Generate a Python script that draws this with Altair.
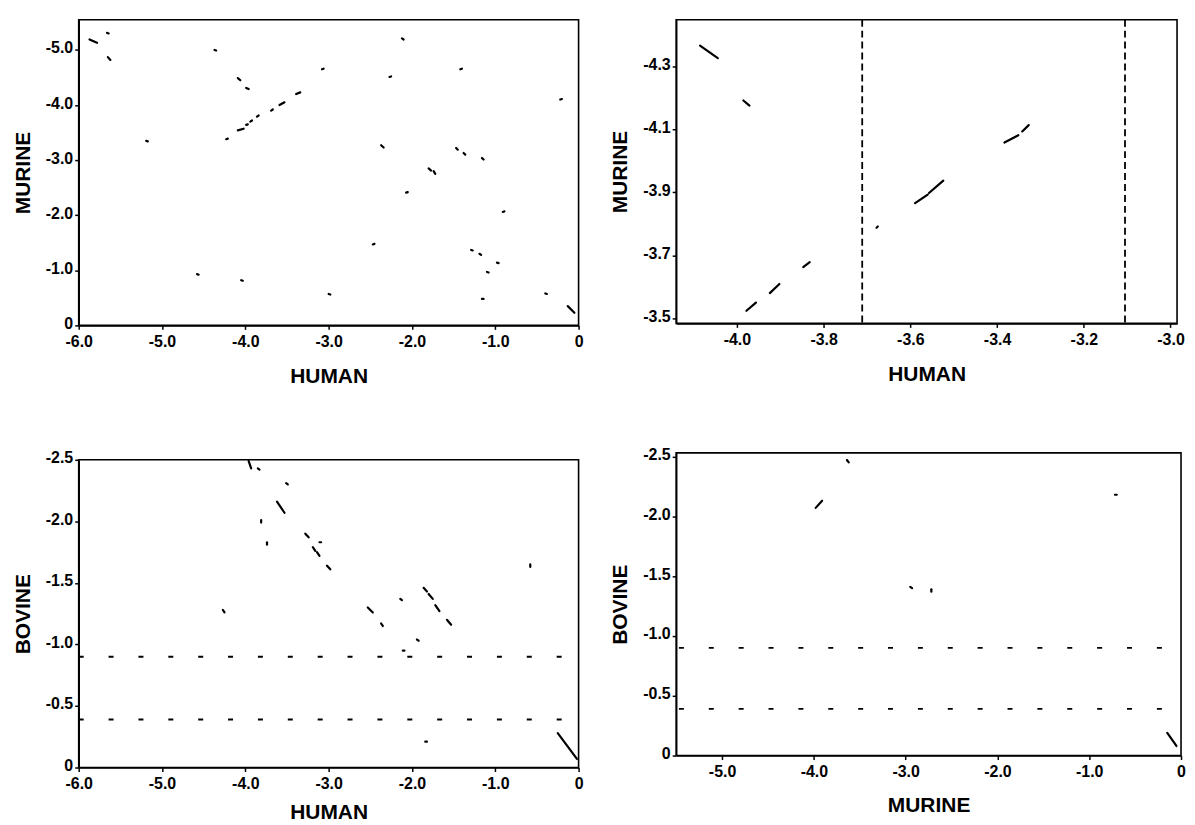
import altair as alt
import pandas as pd

# ---------------- data ----------------
# Panel 1: HUMAN (x) vs MURINE (y) -- short diagonal segments
p1_x1 = [-5.87, -5.66, -5.65, -4.37, -5.19, -4.09, -3.99, -4.09, -4.23, -3.99, -3.94, -3.86, -3.69, -3.59,
         -3.39, -3.08, -2.12, -2.27, -1.42, -0.22, -2.37, -1.47, -1.38, -1.16, -1.80, -1.74, -2.07, -0.91,
         -2.47, -1.29, -1.19, -0.98, -1.10, -4.58, -4.05, -3.00, -0.40, -1.16, -0.13]
p1_y1 = [-5.19, -5.31, -4.87, -5.00, -3.35, -4.49, -4.31, -3.54, -3.38, -3.64, -3.70, -3.79, -3.90, -4.00,
         -4.20, -4.65, -5.21, -4.51, -4.65, -4.10, -3.27, -3.22, -3.13, -3.04, -2.85, -2.80, -2.41, -2.06,
         -1.47, -1.37, -1.30, -1.14, -0.97, -0.93, -0.82, -0.57, -0.58, -0.48, -0.35]
p1_x2 = [-5.78, -5.64, -5.62, -4.35, -5.17, -4.06, -3.96, -4.02, -4.21, -3.97, -3.92, -3.84, -3.67, -3.53,
         -3.34, -3.06, -2.10, -2.25, -1.40, -0.20, -2.34, -1.45, -1.36, -1.14, -1.77, -1.72, -2.05, -0.89,
         -2.45, -1.27, -1.17, -0.96, -1.08, -4.56, -4.03, -2.98, -0.38, -1.14, -0.05]
p1_y2 = [-5.13, -5.30, -4.82, -4.99, -3.34, -4.45, -4.29, -3.57, -3.39, -3.65, -3.72, -3.81, -3.92, -4.05,
         -4.23, -4.66, -5.19, -4.52, -4.66, -4.11, -3.23, -3.19, -3.10, -3.01, -2.81, -2.75, -2.42, -2.07,
         -1.48, -1.36, -1.28, -1.13, -0.96, -0.92, -0.81, -0.56, -0.57, -0.48, -0.23]

# Panel 2: zoom of HUMAN -4.1..-3.0 vs MURINE -4.45..-3.5
p2_x1 = [-4.085, -3.985, -3.978, -3.924, -3.847, -3.678, -3.589, -3.557, -3.383, -3.342]
p2_y1 = [-4.365, -4.191, -3.525, -3.581, -3.663, -3.788, -3.866, -3.898, -4.058, -4.093]
p2_x2 = [-4.044, -3.971, -3.956, -3.902, -3.832, -3.675, -3.560, -3.524, -3.351, -3.327]
p2_y2 = [-4.325, -4.175, -3.551, -3.610, -3.679, -3.792, -3.893, -3.937, -4.081, -4.113]
p2_vlines = [-3.711, -3.105]

# Panel 3: HUMAN (x) vs BOVINE (y)
p3_x1 = [-3.96, -3.85, -3.51, -3.62, -3.81, -3.74, -3.28, -3.19, -3.14, -3.11, -3.02, -4.27, -2.53, -2.37,
         -2.14, -1.86, -1.80, -1.72, -1.58, -1.94, -2.11, -0.58, -1.84, -0.25]
p3_y1 = [-2.49, -2.43, -2.31, -2.16, -2.01, -1.83, -1.90, -1.79, -1.75, -1.83, -1.64, -1.28, -1.30, -1.17,
         -1.37, -1.46, -1.41, -1.32, -1.20, -1.04, -0.95, -1.65, -0.21, -0.28]
p3_x2 = [-3.93, -3.83, -3.49, -3.53, -3.81, -3.74, -3.24, -3.16, -3.11, -3.09, -2.98, -4.25, -2.47, -2.35,
         -2.12, -1.82, -1.75, -1.67, -1.53, -1.92, -2.09, -0.58, -1.82, -0.02]
p3_y2 = [-2.43, -2.42, -2.30, -2.07, -1.99, -1.81, -1.87, -1.76, -1.72, -1.83, -1.61, -1.26, -1.26, -1.15,
         -1.36, -1.43, -1.37, -1.27, -1.16, -1.03, -0.95, -1.63, -0.21, -0.07]

# Panel 4: MURINE (x) vs BOVINE (y)
p4_x1 = [-3.64, -3.98, -0.72, -2.95, -2.72, -0.15]
p4_y1 = [-2.47, -2.07, -2.18, -1.41, -1.39, -0.19]
p4_x2 = [-3.62, -3.91, -0.70, -2.93, -2.72, -0.05]
p4_y2 = [-2.45, -2.13, -2.18, -1.40, -1.37, -0.08]

# horizontal dashed threshold lines (bovine panels)
h_levels = [-0.90, -0.39]
p3_h_start, p3_h_end = -6.0, -0.16
p4_h_start, p4_h_end = -5.47, -0.16

# axis tick values
p1_xticks = [-6.0, -5.0, -4.0, -3.0, -2.0, -1.0, 0.0]
p1_yticks = [-5.0, -4.0, -3.0, -2.0, -1.0, 0.0]
p2_xticks = [-4.0, -3.8, -3.6, -3.4, -3.2, -3.0]
p2_yticks = [-4.3, -4.1, -3.9, -3.7, -3.5]
p3_yticks = [-2.5, -2.0, -1.5, -1.0, -0.5, 0.0]
p4_xticks = [-5.0, -4.0, -3.0, -2.0, -1.0, 0.0]

FONT = "Liberation Sans"
LABEL_EXPR = "datum.value == 0 ? '0' : '-' + format(abs(datum.value), '.1f')"


def segs(x1, y1, x2, y2):
    return pd.DataFrame({"x1": x1, "y1": y1, "x2": x2, "y2": y2})


def xaxis(vals, title, tpad):
    return alt.Axis(values=vals, title=title, labelExpr=LABEL_EXPR, labelFlush=False,
                    labelOverlap=False, grid=False, labelPadding=4, titlePadding=tpad,
                    labelFontWeight="bold", titleFontWeight="bold")


def yaxis(vals, title):
    return alt.Axis(values=vals, title=title, labelExpr=LABEL_EXPR, labelFlush=False,
                    labelOverlap=False, grid=False, labelPadding=2, labelOffset=-2,
                    titlePadding=12, labelFontWeight="bold", titleFontWeight="bold")


def panel(df, xdom, ydom, xvals, yvals, xtitle, ytitle, w, h, tpad, extra=None):
    xs = alt.Scale(domain=xdom, nice=False, zero=False)
    ys = alt.Scale(domain=ydom, nice=False, zero=False)
    xa = xaxis(xvals, xtitle, tpad)
    ya = yaxis(yvals, ytitle)
    seg = alt.Chart(df).mark_rule(color="black", strokeWidth=2.2, strokeCap="round", clip=True).encode(
        x=alt.X("x1:Q", scale=xs, axis=xa),
        y=alt.Y("y1:Q", scale=ys, axis=ya),
        x2="x2:Q",
        y2="y2:Q",
    )
    layers = [seg]
    if extra is not None:
        layers.append(extra(xs, ys, xa, ya))
    return alt.layer(*layers).properties(width=w, height=h)


def vdash(xs, ys, xa, ya):
    d = pd.DataFrame({"x1": p2_vlines})
    return alt.Chart(d).mark_rule(color="black", strokeWidth=1.8, strokeDash=[7, 4]).encode(
        x=alt.X("x1:Q", scale=xs, axis=xa))


def hdash_factory(x0, x1):
    def f(xs, ys, xa, ya):
        d = pd.DataFrame({"x1": [x0] * len(h_levels), "x2": [x1] * len(h_levels), "y1": h_levels})
        return alt.Chart(d).mark_rule(color="black", strokeWidth=1.8, strokeDash=[5, 25]).encode(
            x=alt.X("x1:Q", scale=xs, axis=xa),
            x2="x2:Q",
            y=alt.Y("y1:Q", scale=ys, axis=ya),
        )
    return f


c1 = panel(segs(p1_x1, p1_y1, p1_x2, p1_y2), [-6, 0], [0, -5.55], p1_xticks, p1_yticks,
           "HUMAN", "MURINE", 502, 307, 16)
c2 = panel(segs(p2_x1, p2_y1, p2_x2, p2_y2), [-4.14, -2.985], [-3.485, -4.447], p2_xticks, p2_yticks,
           "HUMAN", "MURINE", 503, 305, 16, extra=vdash)
c3 = panel(segs(p3_x1, p3_y1, p3_x2, p3_y2), [-6, 0], [0, -2.5], p1_xticks, p3_yticks,
           "HUMAN", "BOVINE", 502, 309, 10, extra=hdash_factory(p3_h_start, p3_h_end))
c4 = panel(segs(p4_x1, p4_y1, p4_x2, p4_y2), [-5.5, 0], [0, -2.53], p4_xticks, p3_yticks,
           "MURINE", "BOVINE", 507, 304, 15, extra=hdash_factory(p4_h_start, p4_h_end))

left = alt.vconcat(c1, c3, spacing=62)
right = alt.vconcat(c2, c4, spacing=60)

chart = alt.hconcat(left, right, spacing=24).properties(
    padding={"left": 3, "top": 8, "right": 0, "bottom": 0},
    background="white",
).configure_view(
    stroke="black", strokeWidth=1.6
).configure_axis(
    labelFont=FONT, labelFontSize=16, labelFontWeight="bold", labelColor="black",
    titleFont=FONT, titleFontSize=21, titleFontWeight="bold", titleColor="black",
    tickColor="black", tickSize=4, tickWidth=1.5,
    domainColor="black", domainWidth=1.6,
)

chart.save("out.html", embed_options={"renderer": "svg", "actions": False})
